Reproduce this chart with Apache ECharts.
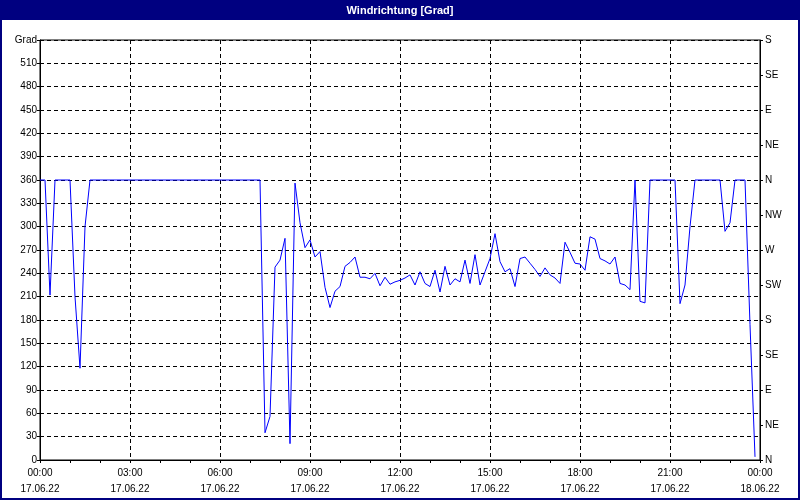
<!DOCTYPE html>
<html>
<head>
<meta charset="utf-8">
<title>Windrichtung</title>
<script src="https://cdn.jsdelivr.net/npm/echarts@6/dist/echarts.min.js"></script>
<style>
  html, body { margin: 0; padding: 0; background: #fff; }
  #chart { width: 800px; height: 500px; }
</style>
</head>
<body>
<div id="chart"></div>
<script>
// minutes since 17.06.22 00:00
const times = [0, 10, 20, 30, 60, 70, 80, 90, 100, 440, 450, 460, 470, 480, 490, 500, 510, 520, 530, 540,
  550, 560, 570, 580, 590, 600, 610, 620, 630, 640, 650, 660, 670, 680, 690, 700, 710, 720, 730, 740,
  750, 760, 770, 780, 790, 800, 810, 820, 830, 840, 850, 860, 870, 880, 890, 900, 910, 920, 930, 940,
  950, 960, 970, 980, 990, 1000, 1010, 1020, 1030, 1040, 1050, 1060, 1070, 1080, 1090, 1100, 1110, 1120, 1130, 1140,
  1150, 1160, 1170, 1180, 1190, 1200, 1210, 1220, 1270, 1280, 1290, 1300, 1310, 1360, 1370, 1380, 1390, 1410, 1420, 1430]
const grad = [360, 360, 212, 360, 360, 210, 118, 300, 360, 360, 35, 56, 248, 257, 285, 21, 356, 305, 273, 283,
  261, 268, 222, 196, 217, 223, 249, 254, 261, 235, 235, 233, 240, 224, 235, 226, 229, 231, 234, 238,
  225, 242, 227, 223, 244, 216, 249, 225, 233, 229, 257, 227, 264, 225, 242, 259, 291, 255, 242, 246,
  223, 259, 261, 253, 245, 236, 247, 238, 234, 227, 280, 267, 253, 252, 244, 287, 284, 259, 256, 252,
  261, 227, 225, 219, 360, 204, 202, 360, 360, 201, 225, 300, 360, 360, 294, 305, 360, 360, 174, 4]
const compass = ['N', 'NE', 'E', 'SE', 'S', 'SW', 'W', 'NW', 'N', 'NE', 'E', 'SE', 'S']

const navy = '#000080'
const labelFont = { color: '#000', fontSize: 10, fontFamily: 'Liberation Sans, Arial, sans-serif' }

function timeLabel(v) {
  const h = Math.floor(v / 60) % 24
  const m = v % 60
  const day = v >= 1440 ? '18.06.22' : '17.06.22'
  return String(h).padStart(2, '0') + ':' + String(m).padStart(2, '0') + '\n' + day
}

const chart = echarts.init(document.getElementById('chart'))
const option = {
  animation: false,
  backgroundColor: '#fff',
  title: {
    text: 'Windrichtung [Grad]',
    left: 'center',
    top: 0,
    textStyle: { color: '#fff', fontSize: 11, fontWeight: 'bold', fontFamily: 'Liberation Sans, Arial, sans-serif' }
  },
  graphic: [
    { type: 'rect', z: -1, shape: { x: 0, y: 0, width: 800, height: 20 }, style: { fill: navy } },
    { type: 'rect', z: 100, shape: { x: 1, y: 1, width: 798, height: 498 }, style: { fill: null, stroke: navy, lineWidth: 2 } }
  ],
  grid: {
    left: 40, right: 40, top: 40, bottom: 40,
    show: true,
    backgroundColor: '#fff',
    borderColor: '#000',
    borderWidth: 1
  },
  xAxis: {
    type: 'value',
    min: 0,
    max: 1440,
    interval: 180,
    axisLine: { lineStyle: { color: '#000', width: 1 } },
    axisTick: { show: true, length: 3, lineStyle: { color: '#000' } },
    minorTick: { show: true, splitNumber: 3, length: 3, lineStyle: { color: '#000' } },
    splitLine: { show: true, lineStyle: { color: '#000', type: [4, 3], width: 1 } },
    axisLabel: Object.assign({ formatter: timeLabel, margin: 5, lineHeight: 16 }, labelFont)
  },
  yAxis: [
    {
      type: 'value',
      min: 0,
      max: 540,
      interval: 30,
      axisLine: { show: true, lineStyle: { color: '#000' } },
      axisTick: { show: true, length: 3, lineStyle: { color: '#000' } },
      splitLine: { show: true, lineStyle: { color: '#000', type: [4, 3], width: 1 } },
      axisLabel: Object.assign({
        margin: 3,
        formatter: function(v) { return v === 540 ? 'Grad' : v }
      }, labelFont)
    },
    {
      type: 'value',
      position: 'right',
      min: 0,
      max: 540,
      interval: 45,
      axisLine: { show: true, lineStyle: { color: '#000' } },
      axisTick: { show: true, length: 3, lineStyle: { color: '#000' } },
      splitLine: { show: false },
      axisLabel: Object.assign({
        margin: 5,
        formatter: function(v) { return compass[Math.round(v / 45)] }
      }, labelFont)
    }
  ],
  series: [
    {
      name: 'Windrichtung',
      type: 'line',
      yAxisIndex: 0,
      data: times.map((t, i) => [t, grad[i]]),
      showSymbol: false,
      lineStyle: { color: '#0000ff', width: 1 },
      itemStyle: { color: '#0000ff' }
    }
  ]
}
chart.setOption(option)
</script>
</body>
</html>
